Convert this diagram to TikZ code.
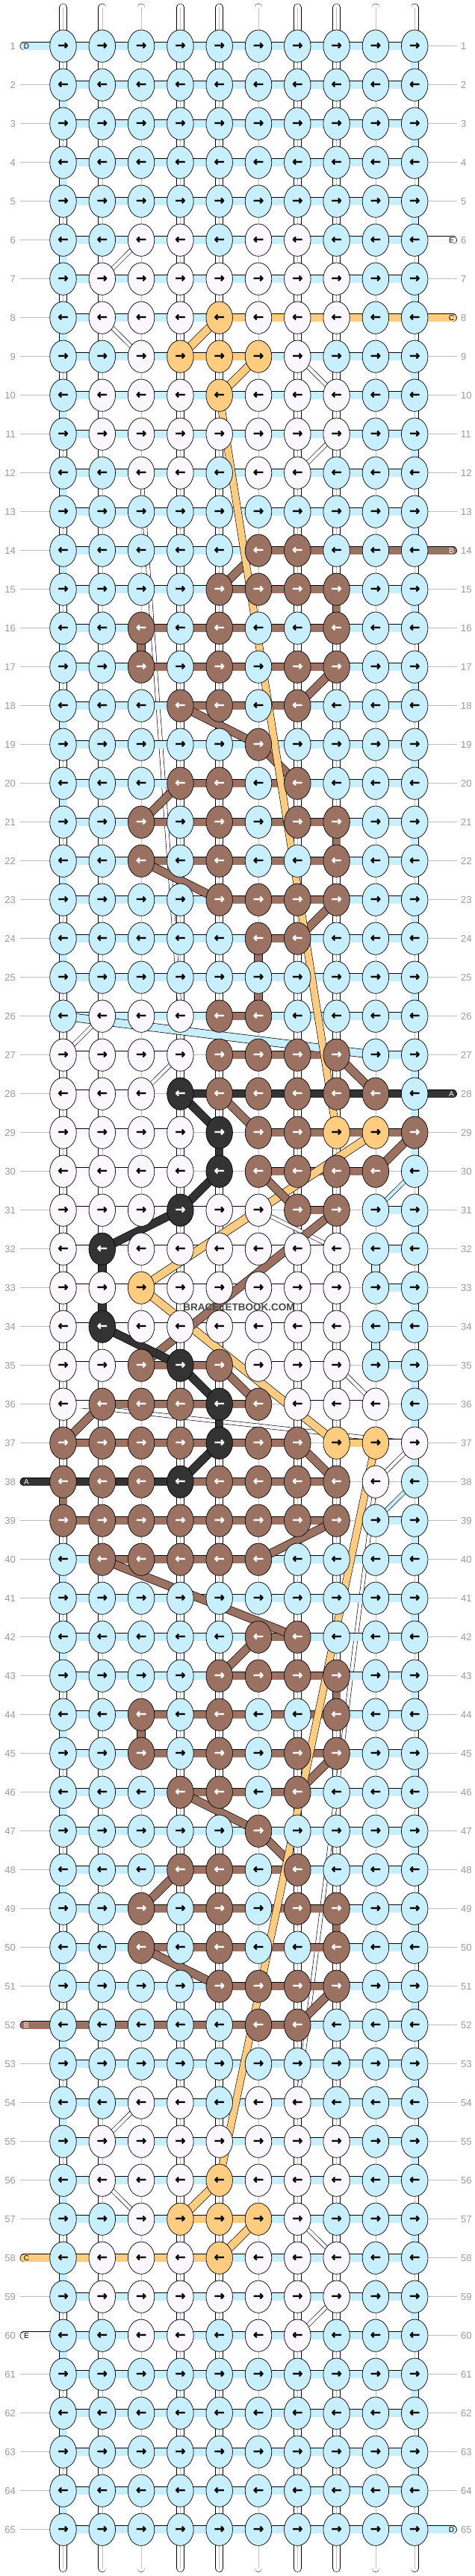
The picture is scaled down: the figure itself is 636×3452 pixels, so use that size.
\documentclass[tikz,border=0pt]{standalone}
\usepackage{fontspec}
\setmainfont{Liberation Sans}
\newfontfamily\arrowfont{DejaVu Sans Bold}[FakeBold=1.6]
\usetikzlibrary{shapes.geometric}
\definecolor{cB}{HTML}{C8EFFD}
\definecolor{cW}{HTML}{FAF8FC}
\definecolor{cO}{HTML}{FFCC80}
\definecolor{cR}{HTML}{9B7262}
\definecolor{cK}{HTML}{333333}
\colorlet{tB}{black}\colorlet{tW}{black}\colorlet{tO}{black}\colorlet{tR}{white}\colorlet{tK}{white}
\definecolor{lblgray}{HTML}{9A9A9A}
\definecolor{linegray}{HTML}{BBBBBB}
\newcommand\thh[4]{\draw[thr=#1] (p-#2-#3) -- (p-#2-#4);}
\newcommand\thv[4]{\draw[thr=#1] (p-#2-#4) -- (p-#3-#4);}
\newcommand\thd[5]{\draw[thr=#1] (p-#2-#3) -- (p-#4-#5);}
\newcommand\thc[5]{\draw[carry=#1] (p-#2-#3) -- (p-#4-#5);}
\newcommand\padLeft[4]{\draw[padstyle=#2] (pl-#1) -- (p-#1-1);
  \node[padtext, text=#4] (plt-#1) at (pla-#1) {#3};}
\newcommand\padRight[4]{\draw[padstyle=#2] (p-#1-10) -- (pr-#1);
  \node[padtext, text=#4] (prt-#1) at (pra-#1) {#3};}
\tikzset{
  thr/.style={line width=0.7pt, double=#1, double distance=10pt},
  carry/.style={line width=0.6pt, double=#1, double distance=4.5pt},
  padstyle/.style={line width=0.7pt, double=#1, double distance=10pt, line cap=round},
  padtext/.style={font=\fontsize{10}{10}\selectfont, inner sep=0pt},
  vstring/.style={line width=0.6pt, double=white, double distance=9.5pt, line cap=round},
  vmid/.style={draw=black!25, line width=0.5pt},
  knot/.style={ellipse, draw=black, line width=0.7pt, minimum width=35.5pt,
     minimum height=43.3pt, inner sep=0pt, font=\arrowfont\fontsize{17}{17}\selectfont},
  lbl/.style={text=lblgray, font=\fontsize{13}{13}\selectfont, inner sep=0pt},
  rowline/.style={draw=linegray, line width=0.8pt},
}
\begin{document}
\begin{tikzpicture}[x=1pt,y=-1pt]
\useasboundingbox (0,0) rectangle (636,3452);
\fill[white] (0,0) rectangle (636,3452);
% coordinates
\foreach \r in {1,...,65}{
  \foreach \c in {1,...,10}{
    \coordinate (p-\r-\c) at ({84.5+52.3*(\c-1)},{61.7+52*(\r-1)});
  }
  \coordinate (lL-\r) at (26.5,{61.7+52*(\r-1)});
  \coordinate (lR-\r) at (612,{61.7+52*(\r-1)});
  \coordinate (pl-\r) at (32.2,{61.7+52*(\r-1)});
  \coordinate (pr-\r) at (606.3,{61.7+52*(\r-1)});
  \coordinate (pla-\r) at (35.5,{61.7+52*(\r-1)});
  \coordinate (pra-\r) at (604.5,{61.7+52*(\r-1)});
}
% vertical strings
\foreach \c in {1,...,10}{
  \coordinate (vt-\c) at ({84.5+52.3*(\c-1)},10);
  \coordinate (vb-\c) at ({84.5+52.3*(\c-1)},3441.5);
  \draw[vstring] (vt-\c) -- (vb-\c);
  \draw[vmid] (vt-\c) -- (vb-\c);
}
% row lines and labels
\foreach \r in {1,...,65}{
  \draw[rowline] (lL-\r) -- (lR-\r);
  \node[lbl, anchor=east] (nl-\r) at ({21},{61.7+52*(\r-1)}) {\r};
  \node[lbl, anchor=west] (nr-\r) at ({617},{61.7+52*(\r-1)}) {\r};
}
% thin carried strings
\thc{cW}{6}{3}{7}{2}
\thc{cW}{8}{2}{9}{3}
\thc{cW}{9}{7}{10}{8}
\thc{cW}{11}{8}{12}{7}
\thc{cW}{12}{3}{26}{4}
\thc{cW}{26}{2}{27}{1}
\thc{cW}{27}{4}{28}{3}
\thc{cW}{31}{6}{32}{8}
\thc{cW}{35}{8}{36}{9}
\thc{cW}{36}{1}{37}{10}
\thc{cW}{37}{10}{38}{9}
\thc{cW}{38}{9}{54}{7}
\thc{cW}{54}{3}{55}{2}
\thc{cW}{56}{2}{57}{3}
\thc{cW}{57}{7}{58}{8}
\thc{cW}{59}{8}{60}{7}
\thc{cB}{30}{10}{31}{9}
\thc{cB}{38}{10}{39}{9}
% blue background bars and turns
\foreach \r in {1,...,26,40,41,...,65}{\thh{cB}{\r}{1}{10}}
\foreach \r [evaluate=\r as \rn using {int(\r+1)}] in {1,3,...,25,39,41,...,63}{\thv{cB}{\r}{\rn}{10}}
\foreach \r [evaluate=\r as \rn using {int(\r+1)}] in {2,4,...,24,40,42,...,64}{\thv{cB}{\r}{\rn}{1}}
\thh{cB}{27}{9}{10}
\thv{cB}{27}{30}{10}
\thh{cB}{31}{9}{10}\thv{cB}{31}{32}{10}
\thh{cB}{32}{9}{10}\thv{cB}{32}{33}{9}
\thh{cB}{33}{9}{10}\thv{cB}{33}{34}{10}
\thh{cB}{34}{9}{10}\thv{cB}{34}{35}{9}
\thh{cB}{35}{9}{10}\thv{cB}{35}{38}{10}
\thh{cB}{39}{9}{10}
% white bars
\thh{cW}{27}{1}{4}
\thh{cW}{28}{1}{3}
\thh{cW}{29}{1}{4}
\thh{cW}{30}{1}{4}
\thh{cW}{31}{1}{6}
\thh{cW}{32}{1}{8}
\thh{cW}{33}{1}{8}
\thh{cW}{34}{1}{8}
\thh{cW}{35}{1}{3}\thh{cW}{35}{6}{8}
\thh{cW}{36}{1}{2}\thh{cW}{36}{7}{9}
\thh{cW}{37}{9}{10}
% tan bars
\thh{cO}{8}{5}{10}
\thh{cO}{9}{4}{6}
\thh{cO}{37}{8}{9}
\thh{cO}{57}{4}{6}
\thh{cO}{58}{1}{5}
% brown bars and verticals
\thh{cR}{14}{6}{10}
\thh{cR}{15}{5}{8}\thv{cR}{15}{16}{8}
\thh{cR}{16}{3}{8}\thv{cR}{16}{17}{3}
\thh{cR}{17}{3}{8}
\thh{cR}{18}{4}{7}
\thh{cR}{20}{4}{7}
\thh{cR}{21}{3}{8}\thv{cR}{21}{22}{8}
\thh{cR}{22}{3}{8}
\thh{cR}{23}{5}{8}
\thh{cR}{24}{6}{7}\thv{cR}{24}{26}{6}
\thh{cR}{26}{5}{6}\thv{cR}{26}{27}{5}
\thh{cR}{27}{5}{8}
\thh{cR}{29}{6}{10}
\thh{cR}{30}{6}{9}
\thh{cR}{31}{7}{8}
\thh{cR}{35}{3}{5}
\thh{cR}{36}{2}{6}
\thh{cR}{37}{1}{7}
\thh{cR}{38}{4}{8}\thv{cR}{38}{39}{1}
\thh{cR}{39}{1}{8}
\thh{cR}{40}{2}{6}
\thh{cR}{42}{6}{7}
\thh{cR}{43}{5}{8}\thv{cR}{43}{44}{8}
\thh{cR}{44}{3}{8}\thv{cR}{44}{45}{3}
\thh{cR}{45}{3}{8}
\thh{cR}{46}{4}{7}
\thh{cR}{48}{4}{7}
\thh{cR}{49}{3}{8}\thv{cR}{49}{50}{8}
\thh{cR}{50}{3}{8}
\thh{cR}{51}{5}{8}
\thh{cR}{52}{1}{7}
% black bars and verticals
\thh{cK}{28}{4}{10}
\thv{cK}{29}{30}{5}
\thv{cK}{32}{34}{2}
\thv{cK}{36}{37}{5}
\thh{cK}{38}{1}{4}
% diagonals
\thd{cB}{26}{1}{27}{9}
\thd{cO}{8}{5}{9}{4}
\thd{cO}{9}{6}{10}{5}
\thd{cO}{29}{9}{33}{3}
\thd{cO}{33}{3}{37}{8}
\thd{cO}{56}{5}{57}{4}
\thd{cO}{57}{6}{58}{5}
\thd{cR}{14}{6}{15}{5}
\thd{cR}{17}{8}{18}{7}
\thd{cR}{18}{4}{19}{6}
\thd{cR}{19}{6}{20}{7}
\thd{cR}{20}{4}{21}{3}
\thd{cR}{22}{3}{23}{5}
\thd{cR}{23}{8}{24}{7}
\thd{cR}{27}{8}{28}{9}
\thd{cR}{28}{5}{29}{6}
\thd{cR}{29}{10}{30}{9}
\thd{cR}{30}{6}{31}{7}
\thd{cR}{31}{8}{35}{3}
\thd{cR}{35}{5}{36}{6}
\thd{cR}{36}{2}{37}{1}
\thd{cR}{37}{7}{38}{8}
\thd{cR}{39}{8}{40}{6}
\thd{cR}{40}{2}{42}{7}
\thd{cR}{42}{6}{43}{5}
\thd{cR}{45}{8}{46}{7}
\thd{cR}{46}{4}{47}{6}
\thd{cR}{47}{6}{48}{7}
\thd{cR}{48}{4}{49}{3}
\thd{cR}{50}{3}{51}{5}
\thd{cR}{51}{8}{52}{7}
\thd{cK}{28}{4}{29}{5}
\thd{cK}{30}{5}{31}{4}
\thd{cK}{31}{4}{32}{2}
\thd{cK}{34}{2}{35}{4}
\thd{cK}{35}{4}{36}{5}
\thd{cK}{37}{5}{38}{4}
% long tan carries
\draw[line width=0.6pt, double=cO, double distance=9pt] (p-10-5) -- (p-29-8);
\draw[line width=0.6pt, double=cO, double distance=9pt] (p-37-9) -- (p-56-5);
% pads
\padLeft{1}{cB}{D}{black}
\padRight{6}{cW}{E}{black}
\padRight{8}{cO}{C}{black}
\padRight{14}{cR}{B}{white}
\padRight{28}{cK}{A}{white}
\padLeft{38}{cK}{A}{white}
\padLeft{52}{cR}{B}{white}
\padLeft{58}{cO}{C}{black}
\padLeft{60}{cW}{E}{black}
\padRight{65}{cB}{D}{black}
% knots
\foreach \r/\cs in {
1/{B,B,B,B,B,B,B,B,B,B},2/{B,B,B,B,B,B,B,B,B,B},3/{B,B,B,B,B,B,B,B,B,B},
4/{B,B,B,B,B,B,B,B,B,B},5/{B,B,B,B,B,B,B,B,B,B},
6/{B,B,W,W,B,W,W,B,B,B},7/{B,W,W,W,W,W,W,W,B,B},8/{B,W,W,W,O,W,W,W,B,B},
9/{B,B,W,O,O,O,W,B,B,B},10/{B,W,W,W,O,W,W,W,B,B},11/{B,W,W,W,W,W,W,W,B,B},
12/{B,B,W,W,B,W,W,B,B,B},13/{B,B,B,B,B,B,B,B,B,B},
14/{B,B,B,B,B,R,R,B,B,B},15/{B,B,B,B,R,R,R,R,B,B},16/{B,B,R,B,R,B,B,R,B,B},
17/{B,B,R,B,R,B,R,R,B,B},18/{B,B,B,R,R,B,R,B,B,B},19/{B,B,B,B,B,R,B,B,B,B},
20/{B,B,B,R,R,B,R,B,B,B},21/{B,B,R,B,R,B,R,R,B,B},22/{B,B,R,B,R,B,B,R,B,B},
23/{B,B,B,B,R,R,R,R,B,B},24/{B,B,B,B,B,R,R,B,B,B},25/{B,B,B,B,B,B,B,B,B,B},
26/{B,W,W,W,R,R,B,B,B,B},27/{W,W,W,W,R,R,R,R,B,B},28/{W,W,W,K,R,R,R,R,R,B},
29/{W,W,W,W,K,R,R,O,O,R},30/{W,W,W,W,K,R,R,R,R,B},31/{W,W,W,K,W,W,R,R,B,B},
32/{W,K,W,W,W,W,W,W,B,B},33/{W,W,O,W,W,W,W,W,B,B},34/{W,K,W,W,W,W,W,W,B,B},
35/{W,W,R,K,R,W,W,W,B,B},36/{W,R,R,R,K,R,W,W,W,B},37/{R,R,R,R,K,R,R,O,O,W},
38/{R,R,R,K,R,R,R,R,W,B},39/{R,R,R,R,R,R,R,R,B,B},40/{B,R,R,R,R,R,B,B,B,B},
41/{B,B,B,B,B,B,B,B,B,B},42/{B,B,B,B,B,R,R,B,B,B},43/{B,B,B,B,R,R,R,R,B,B},
44/{B,B,R,B,R,B,B,R,B,B},45/{B,B,R,B,R,B,R,R,B,B},46/{B,B,B,R,R,B,R,B,B,B},
47/{B,B,B,B,B,R,B,B,B,B},48/{B,B,B,R,R,B,R,B,B,B},49/{B,B,R,B,R,B,R,R,B,B},
50/{B,B,R,B,R,B,B,R,B,B},51/{B,B,B,B,R,R,R,R,B,B},52/{B,B,B,B,B,R,R,B,B,B},
53/{B,B,B,B,B,B,B,B,B,B},54/{B,B,W,W,B,W,W,B,B,B},55/{B,W,W,W,W,W,W,W,B,B},
56/{B,W,W,W,O,W,W,W,B,B},57/{B,B,W,O,O,O,W,B,B,B},58/{B,W,W,W,O,W,W,W,B,B},
59/{B,W,W,W,W,W,W,W,B,B},60/{B,B,W,W,B,W,W,B,B,B},61/{B,B,B,B,B,B,B,B,B,B},
62/{B,B,B,B,B,B,B,B,B,B},63/{B,B,B,B,B,B,B,B,B,B},64/{B,B,B,B,B,B,B,B,B,B},
65/{B,B,B,B,B,B,B,B,B,B}}{
  \foreach \k [count=\c] in \cs {
    \node[knot, fill=c\k, text=t\k] (k-\r-\c) at (p-\r-\c) {\ifodd\r\relax →\else ←\fi};
  }
}
\node[font=\bfseries\fontsize{13.5}{13.5}\selectfont, text=black!72, inner sep=0pt] (wm) at (320,1751.7) {BRACELETBOOK.COM};
\end{tikzpicture}
\end{document}
